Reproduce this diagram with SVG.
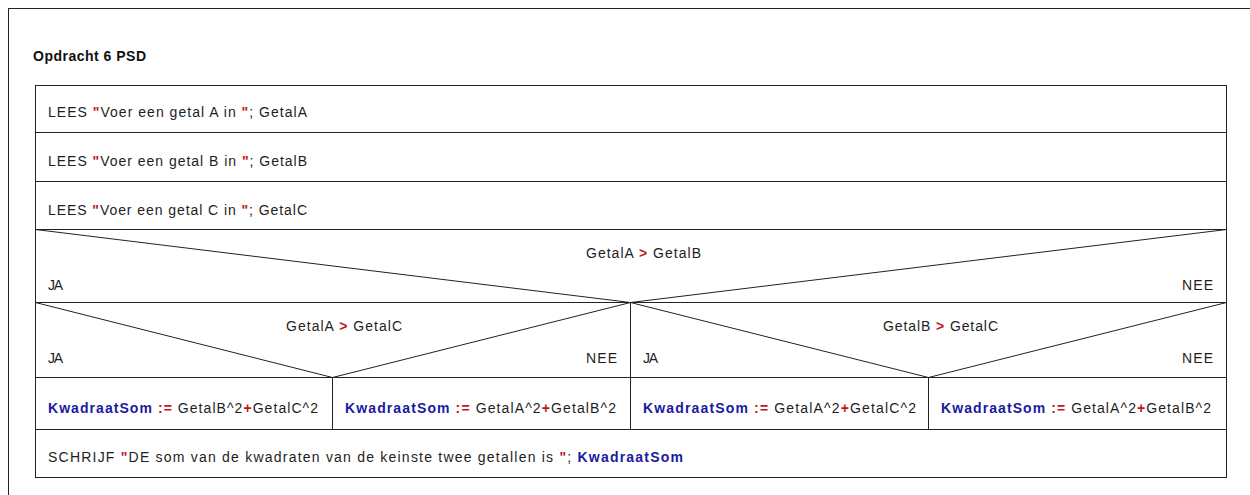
<svg xmlns="http://www.w3.org/2000/svg" width="1250" height="495" viewBox="0 0 1250 495">
<style>
text{font-family:"Liberation Sans",Arial,sans-serif;font-size:14px;fill:#1e1e1e}
.t{font-weight:bold;font-size:14px;fill:#111}
.k{font-weight:bold;fill:#1a1aa0}
.r{font-weight:bold;fill:#c0141c}
.ln{stroke:#222;stroke-width:1;fill:none}
</style>
<rect x="0" y="0" width="1250" height="495" fill="#fff"/>
<rect x="8.5" y="8.5" width="1300" height="600" class="ln"/>
<text x="33" y="61" class="t" textLength="113" lengthAdjust="spacing">Opdracht 6 PSD</text>
<g id="connectors">
<rect x="35.5" y="85.5" width="1191" height="392" class="ln"/>
<line x1="35" y1="132.5" x2="1227" y2="132.5" class="ln"/>
<line x1="35" y1="181.5" x2="1227" y2="181.5" class="ln"/>
<line x1="35" y1="229.5" x2="1227" y2="229.5" class="ln"/>
<line x1="35" y1="302.5" x2="1227" y2="302.5" class="ln"/>
<line x1="35" y1="377.5" x2="1227" y2="377.5" class="ln"/>
<line x1="35" y1="429.5" x2="1227" y2="429.5" class="ln"/>
<polyline points="35.5,229.5 630.5,302.5 1226.5,229.5" class="ln"/>
<polyline points="35.5,302.5 332.5,377.5 630.5,302.5" class="ln"/>
<polyline points="630.5,302.5 928.5,377.5 1226.5,302.5" class="ln"/>
<line x1="630.5" y1="302.5" x2="630.5" y2="429.5" class="ln"/>
<line x1="332.5" y1="377.5" x2="332.5" y2="429.5" class="ln"/>
<line x1="928.5" y1="377.5" x2="928.5" y2="429.5" class="ln"/>
</g>
<g id="read-a"><text x="48" y="117" textLength="259" lengthAdjust="spacing">LEES <tspan class="r">"</tspan>Voer een getal A in <tspan class="r">"</tspan>; GetalA</text></g>
<g id="read-b"><text x="48" y="166" textLength="259" lengthAdjust="spacing">LEES <tspan class="r">"</tspan>Voer een getal B in <tspan class="r">"</tspan>; GetalB</text></g>
<g id="read-c"><text x="48" y="215" textLength="259" lengthAdjust="spacing">LEES <tspan class="r">"</tspan>Voer een getal C in <tspan class="r">"</tspan>; GetalC</text></g>
<g id="cond-ab">
<text x="586" y="258" textLength="115" lengthAdjust="spacing">GetalA <tspan class="r">&gt;</tspan> GetalB</text>
<text x="48" y="290" textLength="15" lengthAdjust="spacing">JA</text>
<text x="1182" y="290" textLength="31" lengthAdjust="spacing">NEE</text>
</g>
<g id="cond-ac">
<text x="286" y="331" textLength="116" lengthAdjust="spacing">GetalA <tspan class="r">&gt;</tspan> GetalC</text>
<text x="48" y="363" textLength="15" lengthAdjust="spacing">JA</text>
<text x="586" y="363" textLength="31" lengthAdjust="spacing">NEE</text>
</g>
<g id="cond-bc">
<text x="883" y="331" textLength="115" lengthAdjust="spacing">GetalB <tspan class="r">&gt;</tspan> GetalC</text>
<text x="643" y="363" textLength="15" lengthAdjust="spacing">JA</text>
<text x="1182" y="363" textLength="31" lengthAdjust="spacing">NEE</text>
</g>
<g id="act-1"><text x="48" y="413" textLength="270" lengthAdjust="spacing"><tspan class="k">KwadraatSom</tspan> <tspan class="r">:=</tspan> GetalB^2<tspan class="r">+</tspan>GetalC^2</text></g>
<g id="act-2"><text x="345" y="413" textLength="271" lengthAdjust="spacing"><tspan class="k">KwadraatSom</tspan> <tspan class="r">:=</tspan> GetalA^2<tspan class="r">+</tspan>GetalB^2</text></g>
<g id="act-3"><text x="643" y="413" textLength="273" lengthAdjust="spacing"><tspan class="k">KwadraatSom</tspan> <tspan class="r">:=</tspan> GetalA^2<tspan class="r">+</tspan>GetalC^2</text></g>
<g id="act-4"><text x="941" y="413" textLength="270" lengthAdjust="spacing"><tspan class="k">KwadraatSom</tspan> <tspan class="r">:=</tspan> GetalA^2<tspan class="r">+</tspan>GetalB^2</text></g>
<g id="write"><text x="48" y="462" textLength="635" lengthAdjust="spacing">SCHRIJF <tspan class="r">"</tspan>DE som van de kwadraten van de keinste twee getallen is <tspan class="r">"</tspan>; <tspan class="k">KwadraatSom</tspan></text></g>
</svg>
